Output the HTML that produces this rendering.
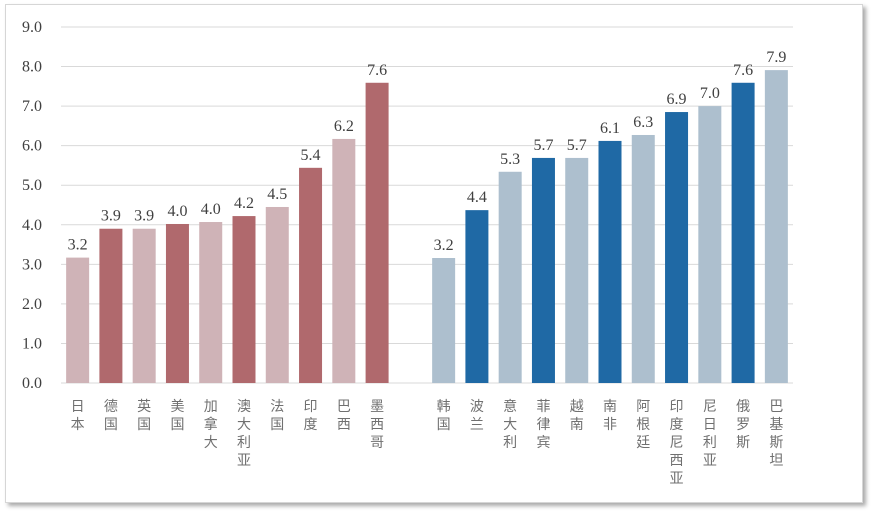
<!DOCTYPE html>
<html><head><meta charset="utf-8">
<style>
body{margin:0;background:#fff;width:882px;height:516px;overflow:hidden}
#frame{position:absolute;left:5px;top:4px;width:856px;height:497px;border:1px solid #d6d6d6;box-shadow:3px 3px 4px #aaa;background:#fff}
svg{position:absolute;left:0;top:0}
</style></head><body>
<div id="frame"></div>
<svg id="chart" width="882" height="516"></svg>
<script>
const categories=["日本","德国","英国","美国","加拿大","澳大利亚","法国","印度","巴西","墨西哥","","韩国","波兰","意大利","菲律宾","越南","南非","阿根廷","印度尼西亚","尼日利亚","俄罗斯","巴基斯坦"];
const values=[3.17,3.9,3.9,4.02,4.07,4.22,4.45,5.44,6.17,7.59,null,3.16,4.37,5.34,5.69,5.69,6.12,6.27,6.85,7.0,7.59,7.91];
const valueLabels=["3.2","3.9","3.9","4.0","4.0","4.2","4.5","5.4","6.2","7.6","","3.2","4.4","5.3","5.7","5.7","6.1","6.3","6.9","7.0","7.6","7.9"];
const yTicks=[0,1,2,3,4,5,6,7,8,9];
const NS="http://www.w3.org/2000/svg";
const svg=document.getElementById('chart');
const x0=61,x1=793,y0=383,y9=27;
const slot=(x1-x0)/categories.length;
const yS=v=>y0-(v/9)*(y0-y9);
const xC=i=>x0+slot*(i+0.5);
function mk(t,a){const e=document.createElementNS(NS,t);for(const k in a)e.setAttribute(k,a[k]);svg.appendChild(e);return e;}
yTicks.forEach(t=>{
  const g=mk('line',{x1:x0,x2:x1,y1:yS(t),y2:yS(t),stroke:'#d9d9d9','stroke-width':1});
  
  
  const l=mk('text',{x:42,y:yS(t)+5,'text-anchor':'end','font-family':'Liberation Serif, serif','font-size':16,fill:'#404040'});
  l.textContent=t.toFixed(1);
  
  
});
const colors={left:['#cfb3b7','#b0696d'],right:['#adbfce','#1f69a5']};
categories.forEach((c,i)=>{
  if(values[i]==null)return;
  const side=i<10?'left':'right';
  const k=i<10?i:i-11;
  const col=colors[side][k%2];
  const bw=23;
  const r=mk('rect',{x:xC(i)-bw/2,y:yS(values[i]),width:bw,height:y0-yS(values[i]),fill:col});
  
  
  const v=mk('text',{x:xC(i),y:yS(values[i])-8,'text-anchor':'middle','font-family':'Liberation Serif, serif','font-size':16,fill:'#404040'});
  v.textContent=valueLabels[i];
  
  
  const t=mk('text',{x:xC(i),y:411,'text-anchor':'middle','font-family':'Liberation Sans, Noto Sans CJK SC, sans-serif','font-size':14,fill:'#707070'});
  
  
  [...c].forEach((ch,j)=>{const s=document.createElementNS(NS,'tspan');s.setAttribute('x',xC(i));s.setAttribute('dy',j?18:0);s.textContent=ch;t.appendChild(s);});
});
</script>
</body></html>
